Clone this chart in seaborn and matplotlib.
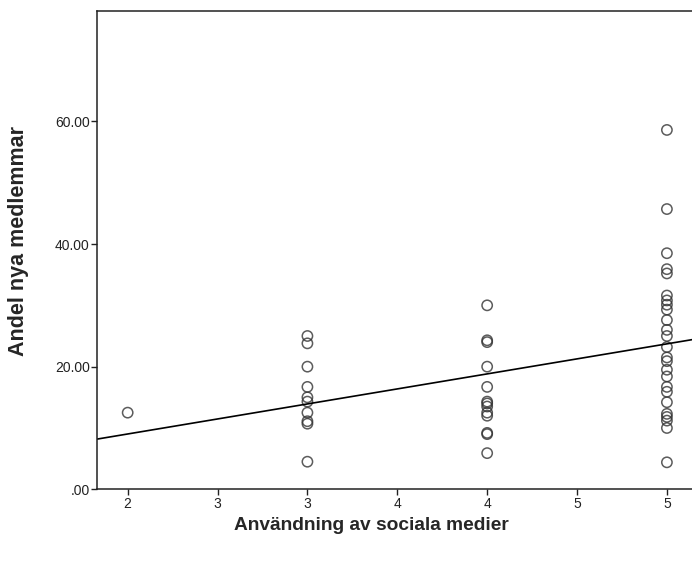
#!/usr/bin/env python3
'''
Scatter + OLS line: share of new members vs use of social media.
'''
import numpy as np
import pandas as pd
import seaborn as sns
import matplotlib
matplotlib.use('Agg')
import matplotlib.pyplot as plt

# data
use_2 = [12.5]
use_3 = [25.0, 23.8, 20.0, 16.7, 15.0, 14.3, 12.5, 11.1, 10.7, 4.5]
use_4 = [30.0, 24.0, 24.3, 20.0, 16.7, 14.0, 14.3, 13.5, 12.5, 12.0,
         9.0, 9.2, 5.9]
use_5 = [58.6, 45.7, 38.5, 35.9, 35.2, 31.6, 30.8, 30.1, 29.3, 27.6,
         26.0, 25.0, 23.2, 21.5, 20.9, 19.5, 18.4, 16.7, 15.9, 14.2,
         12.3, 11.8, 11.2, 10.0, 4.4]

x_ticks = [2, 2.5, 3, 3.5, 4, 4.5, 5]
x_ticklabels = ['2', '3', '3', '4', '4', '5', '5']
y_ticks = [0, 20, 40, 60]
y_ticklabels = ['.00', '20.00', '40.00', '60.00']

xlabel = 'Användning av sociala medier'
ylabel = 'Andel nya medlemmar'


def build_frame():
    rows = []
    for level, vals in [(2, use_2), (3, use_3), (4, use_4), (5, use_5)]:
        rows += [(level, v) for v in vals]
    return pd.DataFrame(rows, columns=['use', 'share'])


def main():
    df = build_frame()
    sns.set_style('white')
    plt.rcParams['font.family'] = ['Liberation Sans', 'DejaVu Sans']

    fig = plt.figure(figsize=(6.92, 5.63), dpi=100)
    ax = fig.add_axes([0.1406, 0.1309, 0.866, 0.8496])
    ax.set_xlim(1.831, 5.165)
    ax.set_ylim(0, 78)

    sns.regplot(x='use', y='share', data=df, ax=ax, ci=None, truncate=False,
                scatter_kws=dict(s=55, facecolors='none', edgecolors='#333333',
                                 linewidths=1.1),
                line_kws=dict(color='black', lw=1.2))

    ax.set_xticks(x_ticks)
    ax.set_xticklabels(x_ticklabels)
    ax.set_yticks(y_ticks)
    ax.set_yticklabels(y_ticklabels)
    ax.tick_params(axis='both', direction='out', length=4, width=1,
                   color='#222222', labelsize=10, labelcolor='#222222',
                   bottom=True, left=True, pad=1.5)
    for side in ['left', 'bottom', 'top', 'right']:
        ax.spines[side].set_color('#222222')
        ax.spines[side].set_linewidth(1.1)
    ax.set_xlabel(xlabel, fontsize=13.8, fontweight='bold')
    ax.set_ylabel(ylabel, fontsize=15.5, fontweight='bold')
    ax.xaxis.set_label_coords(0.458, -0.058)
    ax.yaxis.set_label_coords(-0.114, 0.52)

    fig.savefig('out.png', dpi=100)


if __name__ == '__main__':
    main()
